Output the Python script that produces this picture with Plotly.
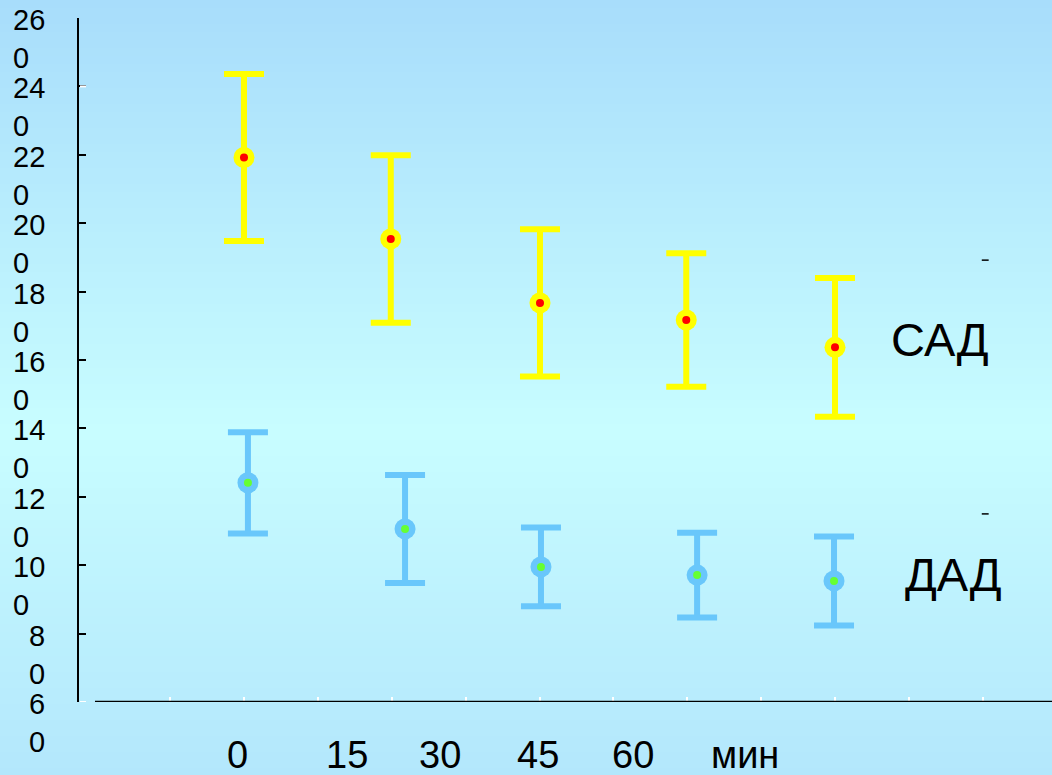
import plotly.graph_objects as go

# ---- data ----
TIME = [0, 15, 30, 45, 60]
SAD_X = [0, 14.9, 30.05, 44.9, 60]
SAD_MEAN = [219.2, 195.4, 176.7, 171.7, 163.7]
SAD_ERR = [24.4, 24.5, 21.5, 19.5, 20.3]
DAD_X = [0.4, 16.35, 30.15, 46.0, 59.9]
DAD_MEAN = [124.1, 110.6, 99.5, 97.1, 95.4]
DAD_ERR = [14.8, 15.8, 11.5, 12.4, 13.0]
Y_TICKS = [60, 80, 100, 120, 140, 160, 180, 200, 220, 240, 260]
X_LABELS = ["0", "15", "30", "45", "60", "мин"]
SERIES_LABELS = ["САД", "ДАД"]

# ---- layout geometry (pixels) ----
W, H = 1052, 775
ML, MR, MT, MB = 79, 0, 18, 73
PW, PH = W - ML - MR, H - MT - MB
XR = [-16.75, 82.03]
YR = [60, 260]
FONT = "Liberation Sans, Arial, sans-serif"


def px_x(p):
    return (p - ML) / PW


def px_y(p):
    return (H - MB - p) / PH


YELLOW = "#FFFF00"
BLUE = "#69C7FB"

fig = go.Figure()

fig.add_trace(go.Scatter(
    x=SAD_X, y=SAD_MEAN, mode="markers",
    marker=dict(size=21, color=YELLOW),
    error_y=dict(type="data", array=SAD_ERR, visible=True,
                 color=YELLOW, thickness=6, width=20),
    hoverinfo="skip"))
fig.add_trace(go.Scatter(
    x=SAD_X, y=SAD_MEAN, mode="markers",
    marker=dict(size=8, color="#FF0000"), hoverinfo="skip"))
fig.add_trace(go.Scatter(
    x=DAD_X, y=DAD_MEAN, mode="markers",
    marker=dict(size=21, color=BLUE),
    error_y=dict(type="data", array=DAD_ERR, visible=True,
                 color=BLUE, thickness=6, width=20),
    hoverinfo="skip"))
fig.add_trace(go.Scatter(
    x=DAD_X, y=DAD_MEAN, mode="markers",
    marker=dict(size=8, color="#66FF33"), hoverinfo="skip"))

# ---- background gradient ----
stops = [(0, (168, 221, 251)), (430, (200, 253, 255)), (775, (179, 231, 252))]


def col_at(p):
    for (p0, c0), (p1, c1) in zip(stops[:-1], stops[1:]):
        if p0 <= p <= p1:
            t = (p - p0) / (p1 - p0)
            return "rgb(%d,%d,%d)" % tuple(round(a + (b - a) * t) for a, b in zip(c0, c1))
    return "rgb(%d,%d,%d)" % stops[-1][1]


shapes = []
band = 8
for p in range(0, H, band):
    shapes.append(dict(type="rect", xref="paper", yref="paper",
                       x0=px_x(-5), x1=px_x(W + 5),
                       y0=px_y(p + band + 1), y1=px_y(p),
                       fillcolor=col_at(p + band / 2), line=dict(width=0),
                       layer="below"))

# horizontal axis line (starts a bit right of the y axis)
shapes.append(dict(type="line", xref="x", yref="y",
                   x0=(95 - 244) / 9.85, x1=XR[1], y0=60, y1=60,
                   line=dict(color="black", width=2.5)))
# white tick marks on the y axis at 240 and 60
for v in (240, 60):
    shapes.append(dict(type="line", xref="paper", yref="y",
                       x0=px_x(80), x1=px_x(86), y0=v, y1=v,
                       line=dict(color="white", width=2)))
# small stray dashes at right
for v in (189.2, 115.0):
    shapes.append(dict(type="line", xref="x", yref="y",
                       x0=74.9, x1=75.6, y0=v, y1=v,
                       line=dict(color="black", width=1.5)))

annotations = []
# y tick labels (wrapped: last digit on a second line)
for v in Y_TICKS:
    s = str(v)
    l1, l2 = s[:-1], s[-1]
    annotations.append(dict(text=l1 + "<br>" + l2, xref="paper", yref="y",
                            x=px_x(47), y=v, xanchor="right", yanchor="top",
                            align="left", showarrow=False, yshift=16,
                            font=dict(family=FONT, size=29, color="black")))

# x labels
X_LABEL_PX = [237.5, 346.5, 440, 538, 633, 745]
for t, p in zip(X_LABELS, X_LABEL_PX):
    annotations.append(dict(text=t, xref="paper", yref="paper",
                            x=px_x(p), y=px_y(755), xanchor="center", yanchor="middle",
                            showarrow=False,
                            font=dict(family=FONT, size=38, color="black")))

# series labels
SERIES_PX = [(940, 340), (953, 574)]
for t, (px, py) in zip(SERIES_LABELS, SERIES_PX):
    annotations.append(dict(text=t, xref="paper", yref="paper",
                            x=px_x(px), y=px_y(py), xanchor="center", yanchor="middle",
                            showarrow=False,
                            font=dict(family=FONT, size=47, color="black")))

fig.update_layout(
    width=W, height=H,
    margin=dict(l=ML, r=MR, t=MT, b=MB, pad=0),
    paper_bgcolor="rgb(190,240,254)",
    plot_bgcolor="rgba(0,0,0,0)",
    showlegend=False,
    shapes=shapes,
    annotations=annotations,
    xaxis=dict(range=XR, showgrid=False, zeroline=False, showline=False,
               tickvals=[-7.5 + 7.5 * i for i in range(12)],
               ticks="inside", ticklen=5, tickwidth=2, tickcolor="white",
               showticklabels=False, fixedrange=True),
    yaxis=dict(range=YR, showgrid=False, zeroline=False, showline=True,
               linecolor="black", linewidth=2,
               tickvals=Y_TICKS, ticks="inside", ticklen=7, tickwidth=2,
               tickcolor="black", showticklabels=False, fixedrange=True),
)

fig.write_html(
    "out.html",
    config={"displayModeBar": False},
    post_script="document.body.style.margin='0';document.body.style.overflow='hidden';",
)
